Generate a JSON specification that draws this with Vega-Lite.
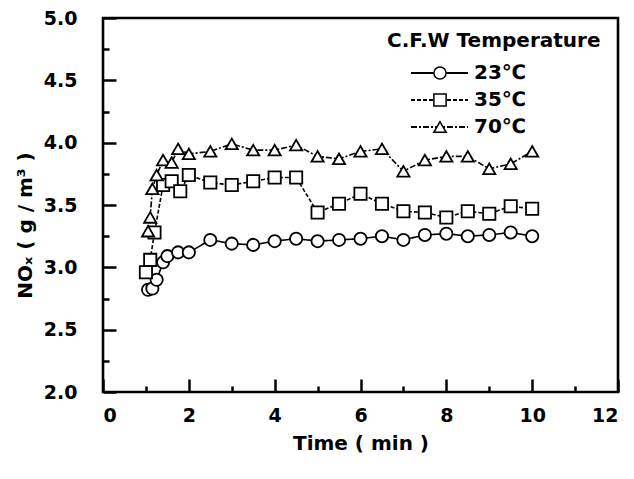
{
  "$schema": "https://vega.github.io/schema/vega-lite/v6.json",
  "width": 515,
  "height": 374,
  "autosize": "none",
  "padding": {"left": 103, "top": 18, "right": 16, "bottom": 87},
  "config": {
    "view": {"stroke": "black", "strokeWidth": 2.6},
    "font": "DejaVu Sans",
    "axis": {"zindex": 1, "grid": false, "domain": false, "ticks": true, "tickColor": "black", "tickOpacity": 1, "tickWidth": 2.5, "labelColor": "black", "labelFont": "DejaVu Sans", "labelFontWeight": "bold", "labelFontSize": 19, "titleFont": "DejaVu Sans", "titleFontWeight": "bold", "titleFontSize": 20, "titleColor": "black"}
  },
  "data": {"values": [
    {"series": "23℃", "time": 1.05, "nox": 2.82},
    {"series": "23℃", "time": 1.15, "nox": 2.83},
    {"series": "23℃", "time": 1.25, "nox": 2.90},
    {"series": "23℃", "time": 1.4, "nox": 3.04},
    {"series": "23℃", "time": 1.5, "nox": 3.09},
    {"series": "23℃", "time": 1.75, "nox": 3.12},
    {"series": "23℃", "time": 2.0, "nox": 3.12},
    {"series": "23℃", "time": 2.5, "nox": 3.22},
    {"series": "23℃", "time": 3.0, "nox": 3.19},
    {"series": "23℃", "time": 3.5, "nox": 3.18},
    {"series": "23℃", "time": 4.0, "nox": 3.21},
    {"series": "23℃", "time": 4.5, "nox": 3.23},
    {"series": "23℃", "time": 5.0, "nox": 3.21},
    {"series": "23℃", "time": 5.5, "nox": 3.22},
    {"series": "23℃", "time": 6.0, "nox": 3.23},
    {"series": "23℃", "time": 6.5, "nox": 3.25},
    {"series": "23℃", "time": 7.0, "nox": 3.22},
    {"series": "23℃", "time": 7.5, "nox": 3.26},
    {"series": "23℃", "time": 8.0, "nox": 3.27},
    {"series": "23℃", "time": 8.5, "nox": 3.25},
    {"series": "23℃", "time": 9.0, "nox": 3.26},
    {"series": "23℃", "time": 9.5, "nox": 3.28},
    {"series": "23℃", "time": 10.0, "nox": 3.25},
    {"series": "35℃", "time": 1.0, "nox": 2.96},
    {"series": "35℃", "time": 1.1, "nox": 3.06},
    {"series": "35℃", "time": 1.2, "nox": 3.28},
    {"series": "35℃", "time": 1.4, "nox": 3.66},
    {"series": "35℃", "time": 1.6, "nox": 3.69},
    {"series": "35℃", "time": 1.8, "nox": 3.61},
    {"series": "35℃", "time": 2.0, "nox": 3.74},
    {"series": "35℃", "time": 2.5, "nox": 3.68},
    {"series": "35℃", "time": 3.0, "nox": 3.66},
    {"series": "35℃", "time": 3.5, "nox": 3.69},
    {"series": "35℃", "time": 4.0, "nox": 3.72},
    {"series": "35℃", "time": 4.5, "nox": 3.72},
    {"series": "35℃", "time": 5.0, "nox": 3.44},
    {"series": "35℃", "time": 5.5, "nox": 3.51},
    {"series": "35℃", "time": 6.0, "nox": 3.59},
    {"series": "35℃", "time": 6.5, "nox": 3.51},
    {"series": "35℃", "time": 7.0, "nox": 3.45},
    {"series": "35℃", "time": 7.5, "nox": 3.44},
    {"series": "35℃", "time": 8.0, "nox": 3.40},
    {"series": "35℃", "time": 8.5, "nox": 3.45},
    {"series": "35℃", "time": 9.0, "nox": 3.43},
    {"series": "35℃", "time": 9.5, "nox": 3.49},
    {"series": "35℃", "time": 10.0, "nox": 3.47},
    {"series": "70℃", "time": 1.05, "nox": 3.29},
    {"series": "70℃", "time": 1.1, "nox": 3.40},
    {"series": "70℃", "time": 1.15, "nox": 3.63},
    {"series": "70℃", "time": 1.25, "nox": 3.74},
    {"series": "70℃", "time": 1.4, "nox": 3.86},
    {"series": "70℃", "time": 1.6, "nox": 3.84},
    {"series": "70℃", "time": 1.75, "nox": 3.95},
    {"series": "70℃", "time": 2.0, "nox": 3.91},
    {"series": "70℃", "time": 2.5, "nox": 3.93},
    {"series": "70℃", "time": 3.0, "nox": 3.99},
    {"series": "70℃", "time": 3.5, "nox": 3.94},
    {"series": "70℃", "time": 4.0, "nox": 3.94},
    {"series": "70℃", "time": 4.5, "nox": 3.98},
    {"series": "70℃", "time": 5.0, "nox": 3.89},
    {"series": "70℃", "time": 5.5, "nox": 3.87},
    {"series": "70℃", "time": 6.0, "nox": 3.93},
    {"series": "70℃", "time": 6.5, "nox": 3.95},
    {"series": "70℃", "time": 7.0, "nox": 3.77},
    {"series": "70℃", "time": 7.5, "nox": 3.86},
    {"series": "70℃", "time": 8.0, "nox": 3.89},
    {"series": "70℃", "time": 8.5, "nox": 3.89},
    {"series": "70℃", "time": 9.0, "nox": 3.79},
    {"series": "70℃", "time": 9.5, "nox": 3.83},
    {"series": "70℃", "time": 10.0, "nox": 3.93}
  ]},
  "resolve": {"axis": {"x": "independent", "y": "independent"}},
  "layer": [
    {
      "mark": {"type": "line", "color": "black", "strokeWidth": 1.6},
      "encoding": {
        "x": {"field": "time", "type": "quantitative", "scale": {"domain": [0, 12], "nice": false, "zero": false},
              "axis": {"orient": "bottom", "values": [0, 2, 4, 6, 8, 10, 12], "offset": -13, "ticks": true, "tickSize": 13, "tickColor": "black", "labelPadding": 14, "title": "Time ( min )", "titlePadding": 8, "format": "d"}},
        "y": {"field": "nox", "type": "quantitative", "scale": {"domain": [2, 5], "nice": false, "zero": false},
              "axis": {"orient": "left", "values": [2, 2.5, 3, 3.5, 4, 4.5, 5], "offset": -13, "ticks": true, "tickSize": 13, "tickColor": "black", "labelPadding": 26, "format": ".1f", "title": "NOₓ ( g / m³ )", "titleX": -91, "titleY": 207, "titleAngle": -90, "titleAlign": "center", "titleBaseline": "middle"}},
        "strokeDash": {"field": "series", "type": "nominal",
          "scale": {"domain": ["23℃", "35℃", "70℃"], "range": [[1, 0], [4, 2], [6, 2, 2, 2]]},
          "legend": {
            "orient": "none", "legendX": 284, "legendY": 13, "padding": 0, "zindex": 0,
            "title": "C.F.W  Temperature", "titleFont": "DejaVu Sans", "titleFontSize": 20, "titleFontWeight": "bold", "titleColor": "black", "titlePadding": 12, "titleLimit": 500,
            "labelFont": "DejaVu Sans", "labelFontSize": 20, "labelFontWeight": "bold", "labelColor": "black", "labelOffset": 5, "labelLimit": 300,
            "symbolType": "stroke", "symbolSize": 3249, "symbolOffset": 23, "symbolStrokeColor": "black", "symbolStrokeWidth": 1.8, "clipHeight": 20, "rowPadding": 7
          }}
      }
    },
    {
      "mark": {"type": "point", "filled": false, "fill": "white", "fillOpacity": 1, "stroke": "black", "strokeWidth": 1.8, "opacity": 1, "size": 150},
      "encoding": {
        "x": {"field": "time", "type": "quantitative", "scale": {"domain": [0, 12], "nice": false, "zero": false},
              "axis": {"orient": "bottom", "values": [1, 3, 5, 7, 9, 11], "ticks": true, "tickSize": 6, "offset": -6, "labels": false, "title": null}},
        "y": {"field": "nox", "type": "quantitative", "scale": {"domain": [2, 5], "nice": false, "zero": false},
              "axis": {"orient": "left", "values": [2.25, 2.75, 3.25, 3.75, 4.25, 4.75], "ticks": true, "tickSize": 6, "offset": -6, "labels": false, "title": null}},
        "shape": {"field": "series", "type": "nominal", "scale": {"range": ["circle", "square", "triangle-up"]},
          "legend": {
            "orient": "none", "legendX": 284, "legendY": 13, "padding": 0, "zindex": 1,
            "title": "C.F.W  Temperature", "titleFont": "DejaVu Sans", "titleFontSize": 20, "titleFontWeight": "bold", "titleColor": "transparent", "titlePadding": 12, "titleLimit": 500,
            "labelFont": "DejaVu Sans", "labelFontSize": 1, "labelFontWeight": "bold", "labelColor": "transparent", "labelLimit": 300,
            "symbolSize": 150, "symbolOffset": 46, "clipHeight": 20, "rowPadding": 7,
            "encode": {"symbols": {"update": {"fill": {"value": "white"}, "stroke": {"value": "black"}, "strokeWidth": {"value": 1.8}, "opacity": {"value": 1}, "fillOpacity": {"value": 1}, "strokeOpacity": {"value": 1}}}}
          }}
      }
    }
  ]
}
